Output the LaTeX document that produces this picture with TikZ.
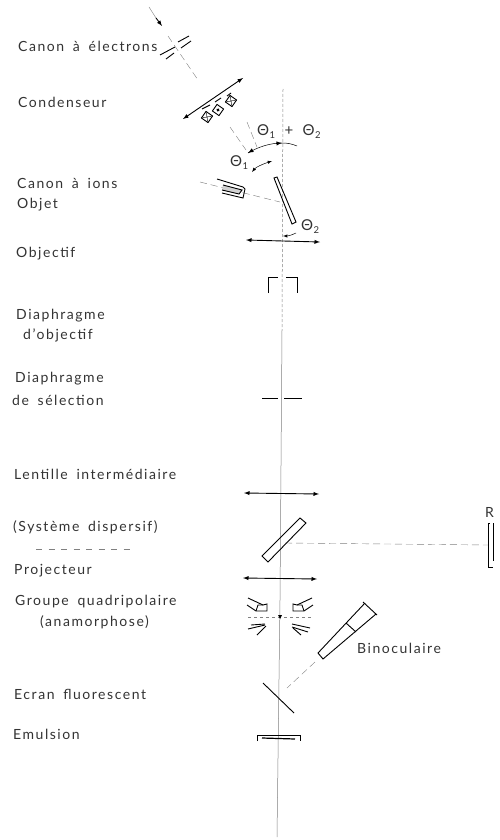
\documentclass[tikz,border=0pt]{standalone}
\usepackage{fontspec}
\setmainfont{Lato}[LetterSpace=11,WordSpace=1.7]
\newcommand{\angsub}[1]{Θ\kern0.5pt\raisebox{-3pt}{\fontsize{9.5}{10}\selectfont #1}}
\tikzset{
	label/.style = {anchor=west, inner sep=0pt, font=\fontsize{14}{16}\selectfont, text=black!80},
	anglabel/.style = {label, font=\fontsize{15}{16}\selectfont},
	part/.style = {line width=0.9pt},
	lens/.style = {line width=0.9pt, <->, >=latex},
	axis/.style = {gray, line width=0.5pt},
	beam/.style = {gray, line width=0.4pt, dash pattern=on 7pt off 4pt}
}
\begin{document}
\begin{tikzpicture}[x=1pt,y=-1pt]
	\useasboundingbox (0,0) rectangle (500,840);
	% axes and beams
	\draw [axis, densely dashed] (283,89) -- (282,330);
	\draw [axis] (282,330) -- (280,600) -- (277,837);
	\draw [beam] (168,36) -- (198,80);
	\draw [beam] (230,127) -- (246,150);
	\draw [beam] (247,122) -- (257,147);
	\draw [beam] (200,182) -- (280,202);
	\draw [beam] (285,543) -- (488,545);
	\draw [beam] (315,662) -- (287,688);
	\draw [axis, dashed] (248,617) -- (313,617);
	% electron gun
	\draw [gray] (149,7) -- (156,18);
	\draw [line width=0.9pt, -latex] (156,18) -- (162,26);
	\draw [part] (160,55) -- (175,47);
	\draw [part] (166,59) -- (174,53);
	\draw [part] (178,42) -- (189,36);
	\draw [part] (181,48) -- (191,41);
	% condenser
	\draw [lens] (183,119) -- (243,78);
	\draw [part] (202,109) -- (210,105);
	\draw [part] (215,102) -- (221,98);
	\draw [part] (227,96) -- (231,93);
	\foreach \cx/\cy in {207/117, 231/101} {
		\begin{scope}[shift={(\cx,\cy)}, rotate=-35]
			\draw [part] (-4,-4) rectangle (4,4);
			\draw [line width=0.4pt] (-4,-4) -- (4,4) (-4,4) -- (4,-4);
		\end{scope}
	}
	\begin{scope}[shift={(218,110)}, rotate=-35]
		\draw [part] (-4,-4) rectangle (4,4);
		\fill (0,0) circle (1.7);
	\end{scope}
	% angles
	\draw [line width=0.5pt] (248,153) .. controls (258,147) and (270,143) .. (282,143) .. controls (288,143) and (292,144) .. (297,146);
	\draw [line width=0.9pt, -latex] (253,150) -- (248,153);
	\draw [line width=0.9pt, -latex] (276,143.5) -- (282,143);
	\draw [line width=0.5pt, latex-latex] (252,172) .. controls (256,167) and (263,164) .. (272,161);
	\draw [line width=0.5pt, -latex] (296,233) .. controls (292,235) and (288,236) .. (283,236);
	% ion gun
	\draw [part] (217,179) -- (243,187) -- (245,189) -- (243,198) -- (222,193);
	\draw [part, fill=gray!35] (223,185) -- (242,190) -- (239,194) -- (222,190);
	% object
	\draw [part] (274,178) -- (277,177) -- (296,222) -- (292,224) -- cycle;
	% objective
	\draw [lens] (246,240) -- (320,242);
	\draw [part] (268,293) -- (268,277) -- (278,277);
	\draw [part] (286,277) -- (297,277) -- (297,293);
	% selection diaphragm
	\draw [part] (262,398) -- (278,398);
	\draw [part] (284,398) -- (302,398);
	% lenses and dispersive system
	\draw [lens] (244,493) -- (319,494);
	\draw [part] (262,556) -- (268,562) -- (306,523) -- (300,518) -- cycle;
	\draw [lens] (243,578) -- (317,579);
	\draw [part] (490,523) -- (488,523) -- (488,567) -- (493,567);
	\draw [line width=0.5pt] (493,523) -- (493,561);
	% quadrupole
	\draw [part] (248,598) -- (263,605) -- (267,604) -- (267,611) -- (256,611) -- (247,605);
	\draw [part] (256,611) -- (258,605) -- (263,605);
	\draw [part] (312,598) -- (297,605) -- (293,604) -- (293,611) -- (304,611) -- (313,605);
	\draw [part] (304,611) -- (302,605) -- (297,605);
	\draw [part] (251,625) -- (265,624);
	\draw [part] (248,629) -- (265,625);
	\draw [part] (257,635) -- (266,626);
	\draw [part] (292,624) -- (310,628);
	\draw [part] (292,627) -- (308,632);
	\draw [part] (293,628) -- (301,635);
	\fill (280,619) -- (282,615) -- (278,615) -- cycle;
	% binocular
	\draw [part] (365,603) -- (318,653) -- (323,659) -- (376,614);
	\draw [part] (363,602) -- (377,615);
	\draw [part] (346,623) -- (356,632);
	% screen and emulsion
	\draw [part] (263,683) -- (294,713);
	\draw [part] (257,741) -- (257,735) -- (300,735) -- (300,741);
	\draw [line width=1.2pt] (262,738) -- (295,739);
	% texts
	\node [label] (gun) at (18,46) {Canon à électrons};
	\node [label] (cond) at (18,102) {Condenseur};
	\node [label] (ions) at (17,183) {Canon à ions};
	\node [label] (obj) at (17,205) {Objet};
	\node [label] (objectif) at (16,254) {Objectif};
	\node [label] (diaa) at (16,316) {Diaphragme};
	\node [label] (diab) at (23,335) {d'objectif};
	\node [label] (diac) at (15,379) {Diaphragme};
	\node [label] (diad) at (12,400) {de sélection};
	\node [label] (lent) at (14,474) {Lentille intermédiaire};
	\node [label] (sys) at (13,527) {(Système dispersif)};
	\draw [gray, line width=0.7pt, dash pattern=on 6pt off 6.5pt] (36,549) -- (131,549);
	\node [label] (proj) at (14,571) {Projecteur};
	\node [label] (quad) at (15,602) {Groupe quadripolaire};
	\node [label] (ana) at (40,622) {(anamorphose)};
	\node [label] (bino) at (357,648) {Binoculaire};
	\node [label] (ecran) at (14,694) {Ecran fluorescent};
	\node [label] (emul) at (13,734) {Emulsion};
	\node [label] (r) at (485,512) {R};
	\node [anglabel] (tsum) at (257,132) {\angsub{1} + \angsub{2}};
	\node [anglabel] (ta) at (230,163) {\angsub{1}};
	\node [anglabel] (tb) at (301,227) {\angsub{2}};
\end{tikzpicture}
\end{document}
